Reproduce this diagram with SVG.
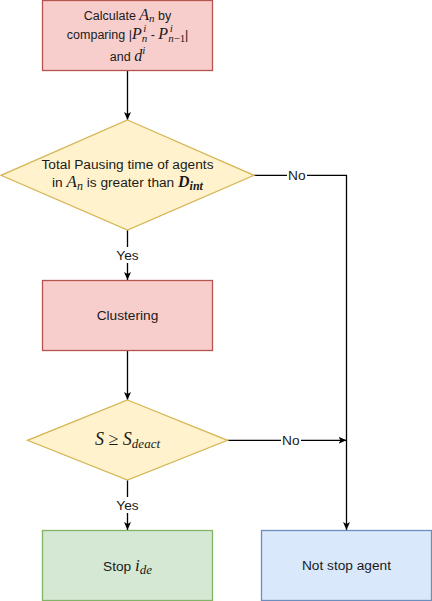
<svg xmlns="http://www.w3.org/2000/svg" width="432" height="601" viewBox="0 0 432 601">
<defs>
<marker id="arr" markerUnits="userSpaceOnUse" markerWidth="9" markerHeight="8" refX="8" refY="4" orient="auto">
<path d="M0,0.5 L8,4 L0,7.5 L2,4 z" fill="#000"/>
</marker>
<style>
.t{font-family:"Liberation Sans",Arial,sans-serif;font-size:13.7px;fill:#1a1a1a;text-anchor:middle}
.s{font-size:12.5px}
.m{font-family:"Liberation Serif","Times New Roman",serif;font-style:italic}
.red{fill:#f8cecc;stroke:#b85450;stroke-width:1.3}
.yel{fill:#fff2cc;stroke:#d6b656;stroke-width:1.3}
.grn{fill:#d5e8d4;stroke:#82b366;stroke-width:1.3}
.blu{fill:#dae8fc;stroke:#6c8ebf;stroke-width:1.3}
.c{fill:none;stroke:#000;stroke-width:1.3}
.lb{fill:#fff}
</style>
</defs>
<rect width="432" height="601" fill="#fff"/>
<g id="connectors">
<path class="c" d="M127.5,70.5 V120" marker-end="url(#arr)"/>
<path class="c" d="M127.5,230 V280" marker-end="url(#arr)"/>
<path class="c" d="M127.5,350.5 V400" marker-end="url(#arr)"/>
<path class="c" d="M127.5,480 V530" marker-end="url(#arr)"/>
<path class="c" d="M254,175.3 H346.5 V530" marker-end="url(#arr)"/>
<path class="c" d="M227.5,440.3 H346.5" marker-end="url(#arr)"/>
<rect class="lb" x="113" y="247" width="29" height="16"/>
<text class="t" x="127.5" y="260">Yes</text>
<rect class="lb" x="113" y="497" width="29" height="16"/>
<text class="t" x="127.5" y="510">Yes</text>
<rect class="lb" x="287" y="168" width="20" height="15"/>
<text class="t" x="296.8" y="180">No</text>
<rect class="lb" x="281" y="433" width="20" height="15"/>
<text class="t" x="290.8" y="445">No</text>
</g>
<g id="calc">
<rect class="red" x="42.5" y="0.5" width="170" height="70"/>
<text class="t s" x="127.5" y="19.5">Calculate <tspan class="m" font-size="16">A</tspan><tspan class="m" font-size="11" dy="2.5">n</tspan><tspan dy="-2.5"> by</tspan></text>
<text class="t s" x="127.5" y="38.5">comparing |<tspan class="m" font-size="16">P</tspan><tspan class="m" font-size="11" dy="3.5">n</tspan><tspan class="m" font-size="11" dx="-4" dy="-10">i</tspan><tspan dx="1" dy="6.5"> - </tspan><tspan class="m" font-size="16">P</tspan><tspan class="m" font-size="11" dy="3.5">n<tspan font-style="normal">−1</tspan></tspan><tspan class="m" font-size="11" dx="-15.5" dy="-10">i</tspan><tspan dx="12" dy="6.5">|</tspan></text>
<text class="t s" x="127.5" y="61">and <tspan class="m" font-size="16">d</tspan><tspan class="m" font-size="11" dy="-7.5">i</tspan></text>
</g>
<g id="pausing">
<polygon class="yel" points="127.5,120 254,175.3 127.5,230 1,175.3"/>
<text class="t" x="127.5" y="169.3">Total Pausing time of agents</text>
<text class="t" x="127.5" y="187.3">in <tspan class="m" font-size="17">A</tspan><tspan class="m" font-size="12" dy="3">n</tspan><tspan dy="-3"> is greater than </tspan><tspan class="m" font-size="16" font-weight="bold">D</tspan><tspan class="m" font-size="12" font-weight="bold" dy="3">int</tspan></text>
</g>
<g id="clustering">
<rect class="red" x="42.5" y="280.5" width="170" height="70"/>
<text class="t" x="127.5" y="320">Clustering</text>
</g>
<g id="threshold">
<polygon class="yel" points="127.5,400 227.5,440.3 127.5,480 27.5,440.3"/>
<text class="t" x="127.5" y="445"><tspan class="m" font-size="18">S</tspan><tspan font-family="'Liberation Serif',serif" font-size="18"> ≥ </tspan><tspan class="m" font-size="18">S</tspan><tspan class="m" font-size="13" dy="3">deact</tspan></text>
</g>
<g id="stop">
<rect class="grn" x="42.5" y="530.5" width="170" height="70"/>
<text class="t" x="127.5" y="570.5">Stop <tspan class="m" font-size="17">i</tspan><tspan class="m" font-size="13" dy="3">de</tspan></text>
</g>
<g id="notstop">
<rect class="blu" x="261.5" y="530.5" width="170" height="70"/>
<text class="t" x="346.5" y="570">Not stop agent</text>
</g>
</svg>
